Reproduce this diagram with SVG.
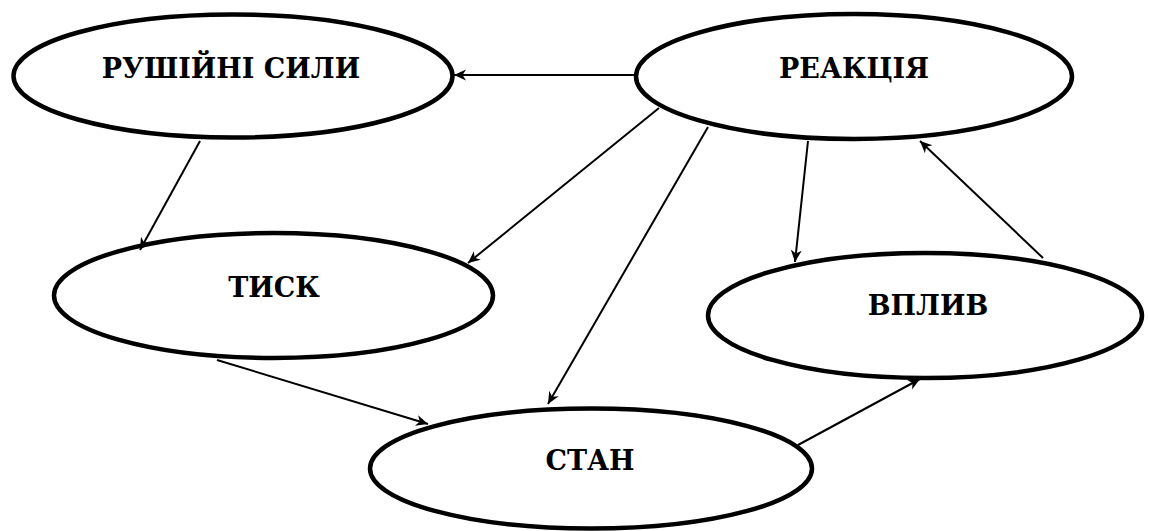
<svg xmlns="http://www.w3.org/2000/svg" width="1149" height="531" viewBox="0 0 1149 531">
<style>
.node ellipse{fill:#fff;stroke:#000;stroke-width:4.5}
.node text{font-family:'DejaVu Serif',serif;font-weight:700;font-size:27px;fill:#000;text-anchor:middle}
.edges line{stroke:#000;stroke-width:2;marker-end:url(#ah)}
</style>
<defs>
<marker id="ah" markerUnits="userSpaceOnUse" markerWidth="14" markerHeight="12" refX="12" refY="6" orient="auto" overflow="visible">
<path d="M12,6 L0,0.5 L3.5,6 L0,11.5 Z" fill="#000"/>
</marker>
</defs>
<rect width="1149" height="531" fill="#fff"/>
<g id="n-rushiini" class="node">
<ellipse cx="233" cy="76" rx="219.5" ry="61.5"/>
<text x="231" y="78">РУШІЙНІ СИЛИ</text>
</g>
<g id="n-reaktsiia" class="node">
<ellipse cx="854" cy="76.5" rx="218" ry="62.5"/>
<text x="854" y="78">РЕАКЦІЯ</text>
</g>
<g id="n-tysk" class="node">
<ellipse cx="273.5" cy="295.5" rx="219.5" ry="62.5"/>
<text x="274" y="297">ТИСК</text>
</g>
<g id="n-vplyv" class="node">
<ellipse cx="925" cy="315.5" rx="217" ry="62.5"/>
<text x="928" y="315">ВПЛИВ</text>
</g>
<g id="n-stan" class="node">
<ellipse cx="591" cy="468.5" rx="221" ry="60"/>
<text x="590" y="470">СТАН</text>
</g>
<g class="edges" id="connectors">
<line x1="637" y1="75" x2="454" y2="75"/>
<line x1="200" y1="141" x2="140" y2="250"/>
<line x1="659" y1="108" x2="468" y2="263"/>
<line x1="708" y1="127" x2="548" y2="404"/>
<line x1="808" y1="141" x2="795" y2="262"/>
<line x1="1043" y1="258" x2="920" y2="141"/>
<line x1="217" y1="360" x2="428" y2="424"/>
<line x1="798" y1="445" x2="920" y2="379"/>
</g>
</svg>
